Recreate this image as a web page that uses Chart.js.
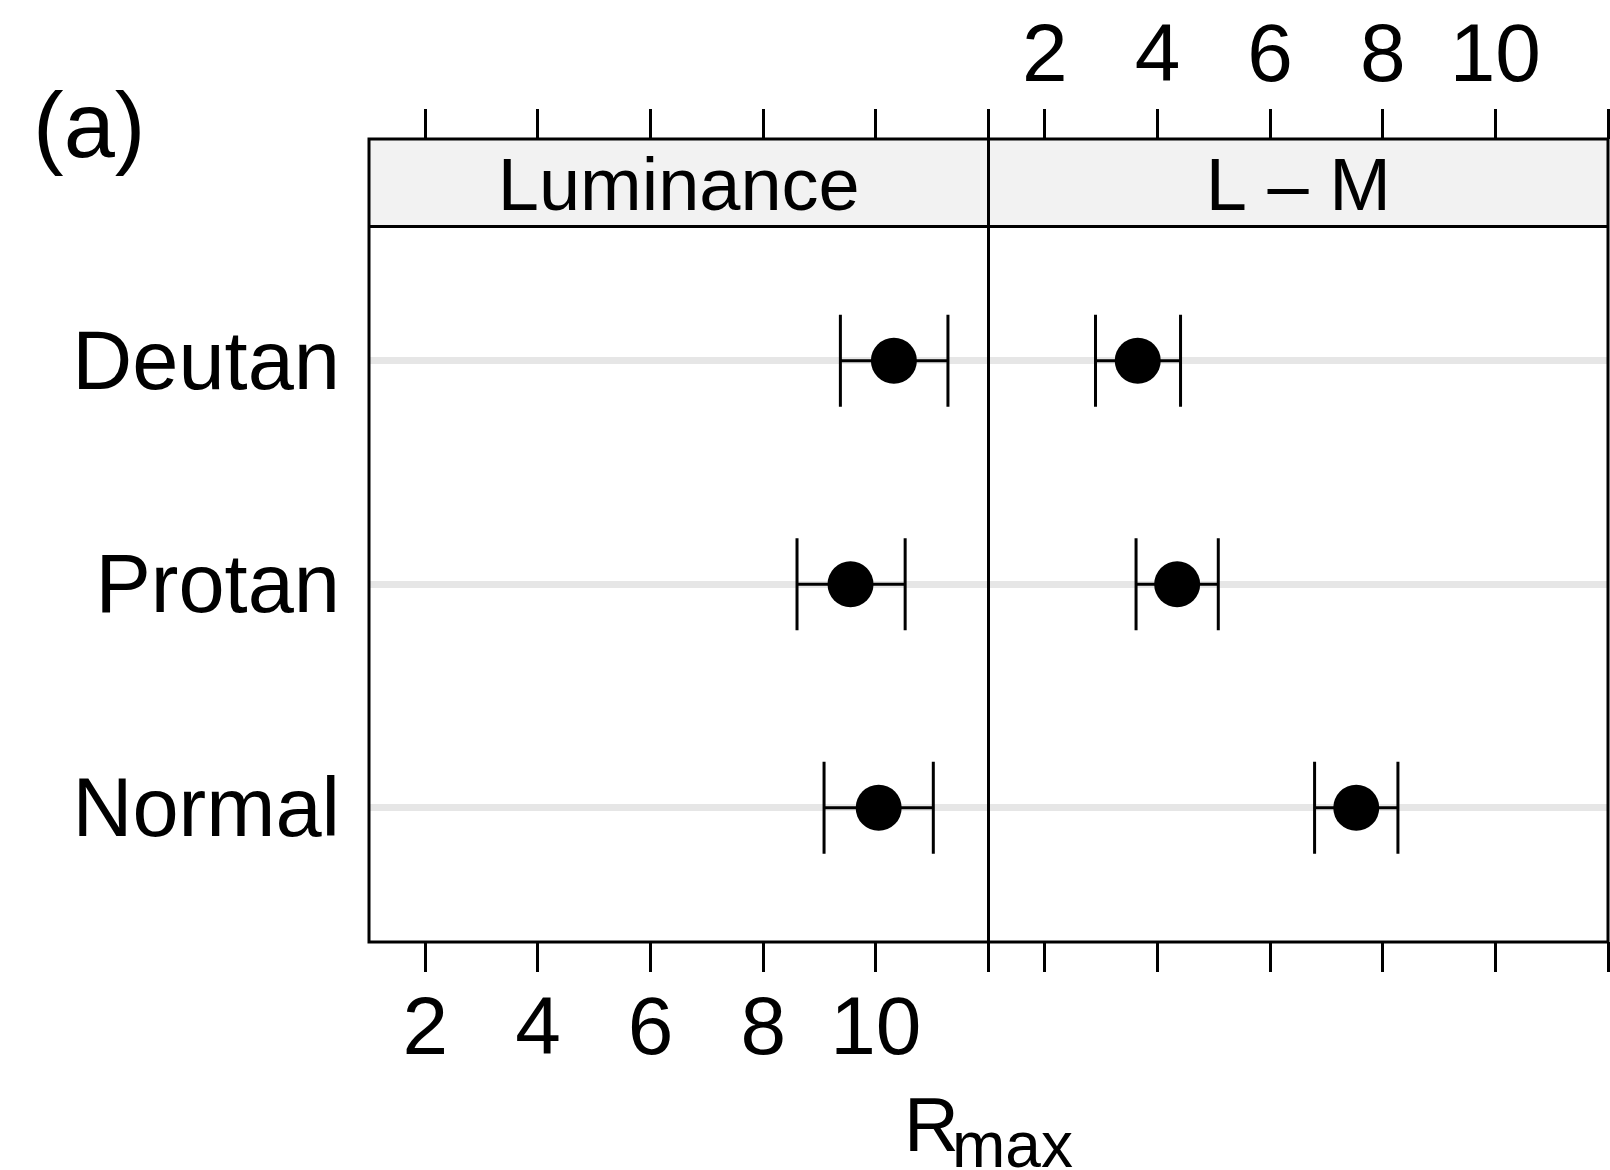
<!DOCTYPE html>
<html><head><meta charset="utf-8">
<script src="https://cdn.jsdelivr.net/npm/chart.js@4/dist/chart.umd.min.js"></script>
<style>html,body{margin:0;padding:0;background:#fff;} #wrap{width:1610px;height:1170px;position:relative;}</style>
</head><body><div id="wrap"><canvas id="c" width="1610" height="1170"></canvas></div>
<script>
const categories = ['Deutan', 'Protan', 'Normal'];
const panels = ['Luminance', 'L \u2013 M'];
const lumEst  = [10.32, 9.55, 10.05];
const lumLow  = [9.37, 8.60, 9.08];
const lumHigh = [11.28, 10.52, 11.02];
const lmEst   = [3.65, 4.35, 7.53];
const lmLow   = [2.90, 3.62, 6.79];
const lmHigh  = [4.41, 5.08, 8.27];
const tickValues = [2, 4, 6, 8, 10, 12];
const tickLabels = ['2', '4', '6', '8', '10', ''];
const xRange = [1, 12];
const panelLetter = '(a)';
const axisTitle = 'R';
const axisTitleSub = 'max';

const FONT = '"Liberation Sans", Arial, Helvetica, sans-serif';
const W = 1610, H = 1170;
const PANEL_LEFT = 369, PANEL_TOP = 139, PANEL_BOTTOM = 942, STRIP_H = 87.5;

function xAxis(position, stack, weight, showLabels) {
  return {
    type: 'linear', position, stack, weight, stackWeight: 1,
    min: xRange[0], max: xRange[1],
    afterBuildTicks: s => { s.ticks = tickValues.map(v => ({ value: v })); },
    afterFit: s => {
      s.height = position === 'top' ? PANEL_TOP : H - PANEL_BOTTOM;
      s.paddingLeft = 0; s.paddingRight = 0;
    },
    grid: { display: true, drawOnChartArea: false, drawTicks: true, tickLength: 30, tickWidth: 3, tickColor: '#000' },
    border: { display: false },
    ticks: {
      autoSkip: false, maxRotation: 0, minRotation: 0, color: '#000',
      padding: position === 'top' ? 1 : 10,
      font: { family: FONT, size: 82 },
      callback: (v) => showLabels ? tickLabels[tickValues.indexOf(v)] : ''
    }
  };
}

const ptDataset = (est, xid) => ({
  type: 'scatter', xAxisID: xid, yAxisID: 'yD',
  data: est.map((v, i) => ({ x: v, y: i + 1 })),
  pointRadius: 23, pointBackgroundColor: '#000', pointBorderWidth: 0, showLine: false
});

const lattice = {
  id: 'lattice',
  beforeDatasetsDraw(chart) {
    const ctx = chart.ctx, yD = chart.scales.yD;
    ctx.save();
    ctx.strokeStyle = '#000'; ctx.lineWidth = 3; ctx.lineCap = 'butt';
    [['xL', lumLow, lumHigh], ['xR', lmLow, lmHigh]].forEach(([id, lo, hi]) => {
      const xs = chart.scales[id];
      categories.forEach((c, i) => {
        const y = yD.getPixelForValue(i + 1);
        const x0 = xs.getPixelForValue(lo[i]), x1 = xs.getPixelForValue(hi[i]);
        ctx.beginPath();
        ctx.moveTo(x0, y); ctx.lineTo(x1, y);
        ctx.moveTo(x0, y - 46); ctx.lineTo(x0, y + 46);
        ctx.moveTo(x1, y - 46); ctx.lineTo(x1, y + 46);
        ctx.stroke();
      });
    });
    ctx.restore();
  },
  afterDraw(chart) {
    const ctx = chart.ctx, a = chart.chartArea;
    const stripTop = a.top, stripBot = chart.scales.yD.top;
    ctx.save();
    ['xL', 'xR'].forEach((id, k) => {
      const s = chart.scales[id];
      ctx.fillStyle = '#f2f2f2';
      ctx.fillRect(s.left, stripTop, s.right - s.left, stripBot - stripTop);
      ctx.fillStyle = '#000';
      ctx.font = '74px ' + FONT;
      ctx.textAlign = 'center'; ctx.textBaseline = 'alphabetic';
      ctx.fillText(panels[k], (s.left + s.right) / 2, stripBot - 17);
    });
    ctx.strokeStyle = '#000'; ctx.lineWidth = 3;
    ctx.strokeRect(a.left, a.top, a.right - a.left, a.bottom - a.top);
    const div = chart.scales.xL.right;
    ctx.beginPath();
    ctx.moveTo(a.left, stripBot); ctx.lineTo(a.right, stripBot);
    ctx.moveTo(div, a.top); ctx.lineTo(div, a.bottom);
    ctx.stroke();
    // panel letter
    ctx.fillStyle = '#000';
    ctx.font = '92px ' + FONT; ctx.textAlign = 'left'; ctx.textBaseline = 'alphabetic';
    ctx.fillText(panelLetter, 33, 157);
    // axis title R_max
    ctx.font = '76px ' + FONT;
    const wR = ctx.measureText(axisTitle).width;
    ctx.font = '64px ' + FONT;
    const wS = ctx.measureText(axisTitleSub).width;
    const cx = (a.left + a.right) / 2;
    const x0 = cx - (wR + wS - 7) / 2;
    ctx.font = '76px ' + FONT;
    ctx.fillText(axisTitle, x0, 1151);
    ctx.font = '64px ' + FONT;
    ctx.fillText(axisTitleSub, x0 + wR - 7, 1167);
    ctx.restore();
  }
};

new Chart(document.getElementById('c'), {
  data: { datasets: [ptDataset(lumEst, 'xL'), ptDataset(lmEst, 'xR')] },
  options: {
    responsive: false, animation: false, devicePixelRatio: 1, events: [],
    layout: { autoPadding: false, padding: { left: 0, right: 2, top: 0, bottom: 0 } },
    plugins: { legend: { display: false }, tooltip: { enabled: false } },
    scales: {
      yS: {
        type: 'linear', position: 'left', stack: 'yl', weight: 2, stackWeight: STRIP_H,
        min: 0, max: 1,
        afterFit: s => { s.width = PANEL_LEFT; },
        grid: { display: false }, border: { display: false }, ticks: { display: false }
      },
      yD: {
        type: 'linear', position: 'left', stack: 'yl', weight: 1, stackWeight: PANEL_BOTTOM - PANEL_TOP - STRIP_H,
        min: 0.4, max: 3.6, reverse: true,
        afterBuildTicks: s => { s.ticks = categories.map((c, i) => ({ value: i + 1 })); },
        afterFit: s => { s.width = PANEL_LEFT; s.paddingTop = 0; s.paddingBottom = 0; },
        grid: { display: true, drawOnChartArea: true, drawTicks: false, color: '#e6e6e6', lineWidth: 7 },
        border: { display: false },
        ticks: { color: '#000', padding: 29, labelOffset: 5, font: { family: FONT, size: 83 },
          callback: v => categories[v - 1] }
      },
      xL: xAxis('bottom', 'xb', 1, true),
      xR: xAxis('bottom', 'xb', 2, false),
      xLt: xAxis('top', 'xt', 2, false),
      xRt: xAxis('top', 'xt', 1, true)
    }
  },
  plugins: [lattice]
});
</script></body></html>
